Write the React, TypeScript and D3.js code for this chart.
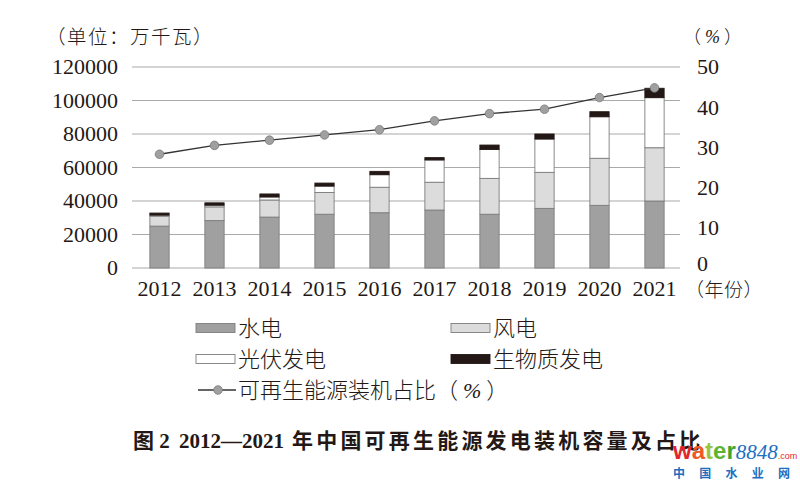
import React from 'react';
import * as d3 from 'd3';

const years = ['2012', '2013', '2014', '2015', '2016', '2017', '2018', '2019', '2020', '2021'];
const hydro = [25000, 28300, 30400, 32100, 33000, 34600, 32100, 35600, 37400, 40000];
const wind = [6000, 8200, 10200, 13000, 15200, 16600, 21400, 21500, 28100, 31800];
const solar = [600, 1000, 1800, 3800, 7500, 13300, 17300, 19900, 24800, 29900];
const biomass = [1200, 1400, 1800, 1800, 2000, 1400, 2600, 3000, 3000, 5600];
const share = [28.3, 30.5, 31.8, 33.1, 34.4, 36.6, 38.4, 39.5, 42.4, 44.8];

const leftTicks = [0, 20000, 40000, 60000, 80000, 100000, 120000];
const rightTicks = [0, 10, 20, 30, 40, 50];

const seriesNames = ['水电', '风电', '光伏发电', '生物质发电'];
const seriesColors = ['#a0a0a0', '#dcdcdc', '#ffffff', '#231815'];

const serif = '"Liberation Serif", "DejaVu Serif", serif';
const cjk = '"Noto Sans CJK SC", sans-serif';

const W = 800;
const H = 490;

const App: React.FC = () => {
  const x = d3
    .scaleBand<string>()
    .domain(years)
    .range([132, 682])
    .paddingInner(0.65)
    .paddingOuter(0.325);
  const yL = d3.scaleLinear().domain([0, 120000]).range([268, 67]);
  const yR = d3.scaleLinear().domain([0, 50]).range([268, 67]);

  const rows = years.map((yr, i) => ({
    year: yr,
    hydro: hydro[i],
    wind: wind[i],
    solar: solar[i],
    biomass: biomass[i],
  }));
  const stack = d3.stack<any>().keys(['hydro', 'wind', 'solar', 'biomass'])(rows);

  const cx = (yr: string) => x(yr)! + x.bandwidth() / 2;
  const line = d3
    .line<number>()
    .x((_, i) => cx(years[i]))
    .y((d) => yR(d));

  return (
    <svg width={W} height={H} style={{ position: 'absolute', left: 0, top: 0, background: '#fff' }}>
      <rect width={W} height={H} fill="#fff" />

      <text x={46} y={44} fontFamily={cjk} fontWeight={300} fontSize={19.5} letterSpacing={1.5} fill="#231815">
        （单位：万千瓦）
      </text>
      <text x={683} y={43} fontFamily={cjk} fontWeight={300} fontSize={18} fill="#231815">
        （<tspan fontFamily={serif} fontStyle="italic" dx={4}>%</tspan><tspan dx={4}>）</tspan>
      </text>

      {leftTicks.map((t) => (
        <g key={t}>
          <line x1={132} x2={680} y1={yL(t)} y2={yL(t)} stroke="#a9a9a9" strokeWidth={1.2} />
          <text
            x={118}
            y={yL(t)}
            dy="0.34em"
            textAnchor="end"
            fontFamily={serif}
            fontSize={22}
            fill="#231815"
          >
            {t}
          </text>
        </g>
      ))}

      {rightTicks.map((t) => (
        <text key={t} x={697} y={yR(t) - (t === 0 ? 4 : 0)} dy="0.34em" fontFamily={serif} fontSize={22} fill="#231815">
          {t}
        </text>
      ))}

      {stack.map((s, si) => (
        <g key={si}>
          {s.map((d, i) => (
            <rect
              key={i}
              x={x(years[i])}
              y={yL(d[1])}
              width={x.bandwidth()}
              height={yL(d[0]) - yL(d[1])}
              fill={seriesColors[si]}
              stroke={si === 3 ? '#231815' : '#7d7d7d'}
              strokeWidth={0.9}
            />
          ))}
        </g>
      ))}

      <path d={line(share)!} fill="none" stroke="#333" strokeWidth={1.3} />
      {share.map((v, i) => (
        <circle key={i} cx={cx(years[i])} cy={yR(v)} r={4.3} fill="#a0a0a0" stroke="#7a7a7a" strokeWidth={0.8} />
      ))}

      {years.map((yr) => (
        <text key={yr} x={cx(yr)} y={296} textAnchor="middle" fontFamily={serif} fontSize={22} fill="#231815">
          {yr}
        </text>
      ))}
      <text x={685} y={297} fontFamily={cjk} fontWeight={300} fontSize={19} letterSpacing={0.5} fill="#231815">
        （年份）
      </text>

      {seriesNames.map((name, i) => {
        const lx = i % 2 === 0 ? 196 : 451;
        const ly = i < 2 ? 328 : 359;
        return (
          <g key={name}>
            <rect x={lx} y={ly - 4.5} width={39} height={9} fill={seriesColors[i]} stroke={i === 3 ? '#231815' : '#7d7d7d'} strokeWidth={0.9} />
            <text x={lx + 42} y={ly} dy="0.36em" fontFamily={cjk} fontWeight={300} fontSize={22} fill="#231815">
              {name}
            </text>
          </g>
        );
      })}
      <line x1={198} x2={236} y1={390} y2={390} stroke="#333" strokeWidth={1.3} />
      <circle cx={218} cy={390} r={4.3} fill="#a0a0a0" stroke="#7a7a7a" strokeWidth={0.8} />
      <text x={238} y={390} dy="0.36em" fontFamily={cjk} fontWeight={300} fontSize={22} fill="#231815">
        可再生能源装机占比（<tspan fontFamily={serif} fontStyle="italic" dx={5}>%</tspan><tspan dx={5}>）</tspan>
      </text>

      <text x={133} y={448} fontSize={21} fontWeight="bold" fill="#231815">
        <tspan fontFamily={cjk}>图</tspan>
        <tspan fontFamily={serif}> 2</tspan>
        <tspan x={179} fontFamily={serif}>2012—2021</tspan>
        <tspan fontFamily={cjk} dx={8} letterSpacing={3.2}>年中国可再生能源发电装机容量及占比</tspan>
      </text>

      <g>
        <text x={673} y={459} fontFamily='"Liberation Sans", Arial, sans-serif' fontWeight="bold" fontSize={24}>
          <tspan fill="#e2262b">w</tspan>
          <tspan fill="#ef5a24">a</tspan>
          <tspan fill="#9bc53d">t</tspan>
          <tspan fill="#5bb531">e</tspan>
          <tspan fill="#3fa535">r</tspan>
          <tspan fill="#1c6fc1" fontFamily={serif} fontStyle="italic" fontWeight="normal" fontSize={21}>8848</tspan>
          <tspan fill="#e2262b" fontSize={9} fontWeight="normal">.com</tspan>
        </text>
        <text x={673} y={478} fontFamily={cjk} fontWeight="bold" fontSize={12} fill="#1c6fc1" textLength={117} lengthAdjust="spacing">
          中国水业网
        </text>
      </g>
    </svg>
  );
};

export default App;
